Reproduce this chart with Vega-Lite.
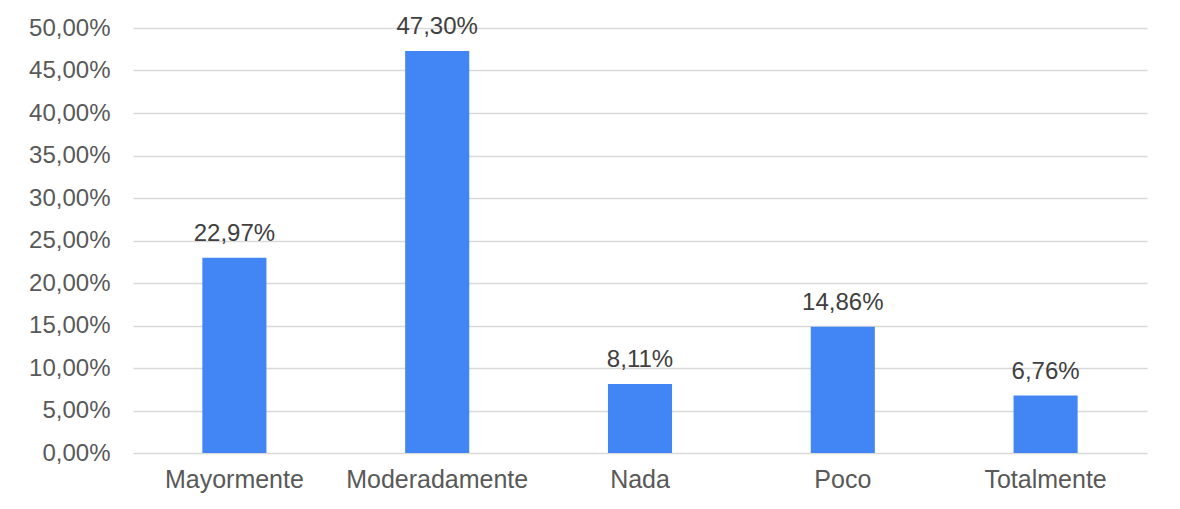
{
  "$schema": "https://vega.github.io/schema/vega-lite/v6.json",
  "autosize": "none",
  "width": 1014,
  "height": 425,
  "padding": {"left": 133, "top": 28, "right": 33, "bottom": 56},
  "background": "white",
  "config": {
    "view": {"stroke": null},
    "locale": {"number": {"decimal": ",", "thousands": ".", "grouping": [3], "currency": ["", " €"]}},
    "font": "Liberation Sans"
  },
  "data": {
    "values": [
      {"categoria": "Mayormente", "valor": 0.2297},
      {"categoria": "Moderadamente", "valor": 0.4730},
      {"categoria": "Nada", "valor": 0.0811},
      {"categoria": "Poco", "valor": 0.1486},
      {"categoria": "Totalmente", "valor": 0.0676}
    ]
  },
  "encoding": {
    "x": {
      "field": "categoria",
      "type": "nominal",
      "sort": null,
      "scale": {"paddingInner": 0.684, "paddingOuter": 0.342},
      "axis": {
        "title": null,
        "labelAngle": 0,
        "domain": false,
        "ticks": false,
        "labelFont": "Liberation Sans",
        "labelFontSize": 25,
        "labelColor": "#595959",
        "labelPadding": 14,
        "labelLimit": 400
      }
    },
    "y": {
      "field": "valor",
      "type": "quantitative",
      "scale": {"domain": [0, 0.5], "nice": false},
      "axis": {
        "title": null,
        "values": [0, 0.05, 0.1, 0.15, 0.2, 0.25, 0.3, 0.35, 0.4, 0.45, 0.5],
        "format": ".2%",
        "domain": false,
        "ticks": false,
        "labelFont": "Liberation Sans",
        "labelFontSize": 24,
        "labelColor": "#595959",
        "labelPadding": 23,
        "gridColor": "#d9d9d9",
        "gridWidth": 1.5
      }
    }
  },
  "layer": [
    {"mark": {"type": "bar", "color": "#4285F4"}},
    {
      "mark": {"type": "text", "dy": -17, "baseline": "alphabetic", "fontSize": 24, "color": "#404040", "font": "Liberation Sans"},
      "encoding": {"text": {"field": "valor", "type": "quantitative", "format": ".2%"}}
    }
  ]
}
